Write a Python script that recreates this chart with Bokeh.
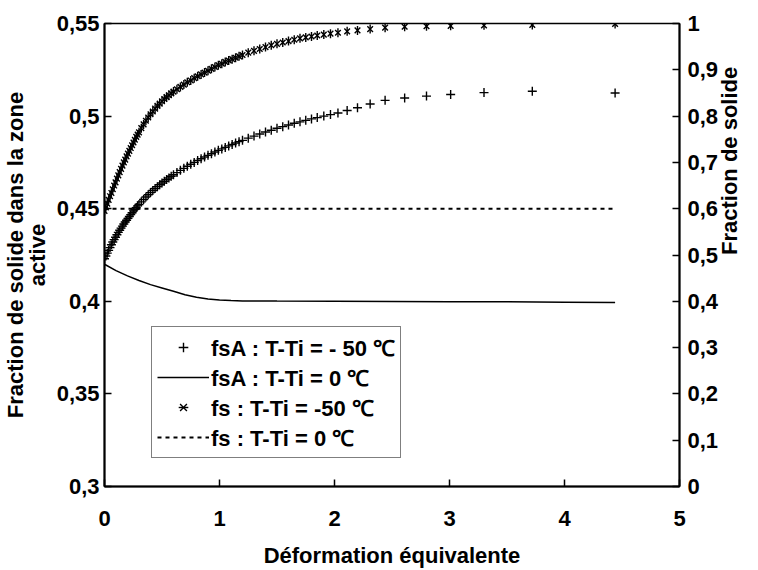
import math
from bokeh.plotting import figure
from bokeh.models import Range1d, LinearAxis, FixedTicker, Legend, LegendItem
from bokeh.embed import file_html
from bokeh.resources import INLINE

# ---- data ----
strain = [0.000, 0.012, 0.024, 0.036, 0.048, 0.060, 0.072, 0.084, 0.096, 0.108,
          0.120, 0.132, 0.144, 0.156, 0.168, 0.180, 0.192, 0.204, 0.216, 0.228,
          0.240, 0.252, 0.264, 0.276, 0.288,
          0.300, 0.320, 0.340, 0.360, 0.380, 0.400, 0.420, 0.440, 0.460, 0.480,
          0.500, 0.520, 0.540, 0.560, 0.580,
          0.600, 0.630, 0.660, 0.690, 0.720, 0.750, 0.780, 0.810, 0.840, 0.870,
          0.900, 0.930, 0.960, 0.990, 1.020, 1.050, 1.080, 1.110, 1.140, 1.170,
          1.200, 1.250, 1.300, 1.350, 1.400, 1.450, 1.500, 1.550, 1.600, 1.650,
          1.700, 1.750, 1.800, 1.850,
          1.907, 1.965, 2.030, 2.110, 2.200, 2.310, 2.440, 2.610, 2.800, 3.010,
          3.300, 3.720, 4.440]

# fs : T-Ti = -50 C  (right axis)
fs_m50 = [0.595, 0.603, 0.611, 0.619, 0.627, 0.634, 0.642, 0.650, 0.657, 0.665,
          0.672, 0.679, 0.686, 0.693, 0.700, 0.706, 0.713, 0.719, 0.725, 0.731,
          0.737, 0.743, 0.749, 0.755, 0.760,
          0.765, 0.774, 0.782, 0.790, 0.797, 0.804, 0.810, 0.816, 0.822, 0.827,
          0.832, 0.837, 0.841, 0.845, 0.849,
          0.853, 0.858, 0.863, 0.868, 0.873, 0.877, 0.882, 0.886, 0.890, 0.894,
          0.898, 0.902, 0.906, 0.910, 0.913, 0.917, 0.920, 0.923, 0.926, 0.929,
          0.932, 0.937, 0.941, 0.945, 0.949, 0.953, 0.956, 0.959, 0.962, 0.965,
          0.968, 0.970, 0.972, 0.974,
          0.976, 0.978, 0.980, 0.983, 0.985, 0.988, 0.991, 0.993, 0.994, 0.995,
          0.996, 0.997, 0.999]

# fsA : T-Ti = -50 C  (left axis)
fsA_m50 = [0.4230, 0.4245, 0.4260, 0.4275, 0.4290, 0.4305, 0.4320, 0.4333, 0.4346, 0.4359,
           0.4372, 0.4384, 0.4395, 0.4406, 0.4417, 0.4428, 0.4438, 0.4448, 0.4458, 0.4468,
           0.4478, 0.4488, 0.4497, 0.4506, 0.4515,
           0.4523, 0.4537, 0.4550, 0.4563, 0.4575, 0.4587, 0.4598, 0.4609, 0.4619, 0.4629,
           0.4639, 0.4648, 0.4657, 0.4666, 0.4675,
           0.4683, 0.4695, 0.4707, 0.4718, 0.4729, 0.4740, 0.4750, 0.4760, 0.4770, 0.4779,
           0.4788, 0.4797, 0.4806, 0.4815, 0.4823, 0.4831, 0.4839, 0.4847, 0.4855, 0.4862,
           0.4869, 0.4881, 0.4892, 0.4903, 0.4914, 0.4924, 0.4934, 0.4943, 0.4952, 0.4961,
           0.4969, 0.4977, 0.4985, 0.4992,
           0.5000, 0.5008, 0.5017, 0.5030, 0.5045, 0.5065, 0.5085, 0.5098, 0.5108, 0.5117,
           0.5127, 0.5134, 0.5125]

# fsA : T-Ti = 0 C  (left axis, solid line)
fsA0_strain = [0.0, 0.1, 0.2, 0.3, 0.4, 0.5, 0.6, 0.7, 0.8, 0.9, 1.0, 1.1, 1.2,
               1.5, 2.0, 2.5, 3.0, 3.5, 4.0, 4.44]
fsA_0 = [0.4200, 0.4166, 0.4137, 0.4112, 0.4090, 0.4072, 0.4054, 0.4035, 0.4022, 0.4013,
         0.4007, 0.4004, 0.4002, 0.4001, 0.4000, 0.3999, 0.3998, 0.3997, 0.3995, 0.3993]

# fs : T-Ti = 0 C  (right axis, dashed line)
fs0_strain = [0.0, 4.44]
fs_0 = [0.6, 0.6]

left_ticks = [0.3, 0.35, 0.4, 0.45, 0.5, 0.55]
left_labels = ["0,3", "0,35", "0,4", "0,45", "0,5", "0,55"]
right_ticks = [0, 0.1, 0.2, 0.3, 0.4, 0.5, 0.6, 0.7, 0.8, 0.9, 1.0]
right_labels = ["0", "0,1", "0,2", "0,3", "0,4", "0,5", "0,6", "0,7", "0,8", "0,9", "1"]
x_ticks = [0, 1, 2, 3, 4, 5]

legend_labels = ["fsA : T-Ti = - 50 \u2103", "fsA : T-Ti = 0 \u2103",
                 "fs : T-Ti = -50 \u2103", "fs : T-Ti = 0 \u2103"]

x_title = "D\u00e9formation \u00e9quivalente"
left_title = "Fraction de solide dans la zone\nactive"
right_title = "Fraction de solide"

FONT = "Liberation Sans"

p = figure(width=758, height=570, x_range=Range1d(0, 5), y_range=Range1d(0.3, 0.55),
           output_backend="svg", toolbar_location=None,
           min_border_left=104, min_border_right=79, min_border_top=23, min_border_bottom=83)
p.extra_y_ranges = {"right": Range1d(0, 1)}
p.grid.visible = False
p.outline_line_color = "black"
p.outline_line_width = 1.5
p.background_fill_color = "white"
p.border_fill_color = "white"


def style_axis(ax, standoff, title, title_standoff):
    ax.axis_line_color = "black"
    ax.axis_line_width = 2
    ax.major_tick_in = 7
    ax.major_tick_out = 0
    ax.major_tick_line_width = 1.5
    ax.major_tick_line_color = "black"
    ax.minor_tick_line_color = None
    ax.major_label_text_font = FONT
    ax.major_label_text_font_style = "bold"
    ax.major_label_text_font_size = "22px"
    ax.major_label_text_color = "black"
    ax.major_label_standoff = standoff
    ax.axis_label = title
    ax.axis_label_text_font = FONT
    ax.axis_label_text_font_style = "bold"
    ax.axis_label_text_font_size = "22px"
    ax.axis_label_text_color = "black"
    ax.axis_label_standoff = title_standoff


xa = p.xaxis[0]
xa.ticker = FixedTicker(ticks=x_ticks)
style_axis(xa, 24, x_title, 14)

ya = p.yaxis[0]
ya.ticker = FixedTicker(ticks=left_ticks)
ya.major_label_overrides = {t: l for t, l in zip(left_ticks, left_labels)}
style_axis(ya, 5, left_title, 4)
ya.axis_label_text_line_height = 0.85

ra = LinearAxis(y_range_name="right", ticker=FixedTicker(ticks=right_ticks))
ra.major_label_overrides = {t: l for t, l in zip(right_ticks, right_labels)}
style_axis(ra, 8, right_title, 8)
try:
    ra.axis_label_orientation = math.pi / 2
except Exception:
    pass
p.add_layout(ra, "right")

r_dash = p.line(fs0_strain, fs_0, line_color="black", line_width=2, line_dash="4 4",
                y_range_name="right")
r_line = p.line(fsA0_strain, fsA_0, line_color="black", line_width=1.5)
r_plus = p.scatter(strain, fsA_m50, marker="cross", size=9, line_color="black", line_width=1.4)
r_ast_x = p.scatter(strain, fs_m50, marker="x", size=8, line_color="black", line_width=1.4,
                    y_range_name="right")
r_ast_v = p.scatter(strain, fs_m50, marker="dash", angle=math.pi / 2, size=9,
                    line_color="black", line_width=1.4, y_range_name="right")

legend = Legend(items=[
    LegendItem(label=legend_labels[0], renderers=[r_plus]),
    LegendItem(label=legend_labels[1], renderers=[r_line]),
    LegendItem(label=legend_labels[2], renderers=[r_ast_x, r_ast_v]),
    LegendItem(label=legend_labels[3], renderers=[r_dash]),
], location=(47, 28))
legend.label_text_font = FONT
legend.label_text_font_style = "bold"
legend.label_text_font_size = "22px"
legend.label_text_color = "black"
legend.glyph_width = 52
legend.glyph_height = 24
legend.label_height = 24
legend.label_standoff = 2
legend.spacing = 0
legend.padding = 5
legend.margin = 0
legend.border_line_color = "black"
legend.border_line_width = 1
legend.background_fill_color = "white"
legend.background_fill_alpha = 1
p.add_layout(legend)

open("out.html", "w").write(file_html(p, INLINE))
